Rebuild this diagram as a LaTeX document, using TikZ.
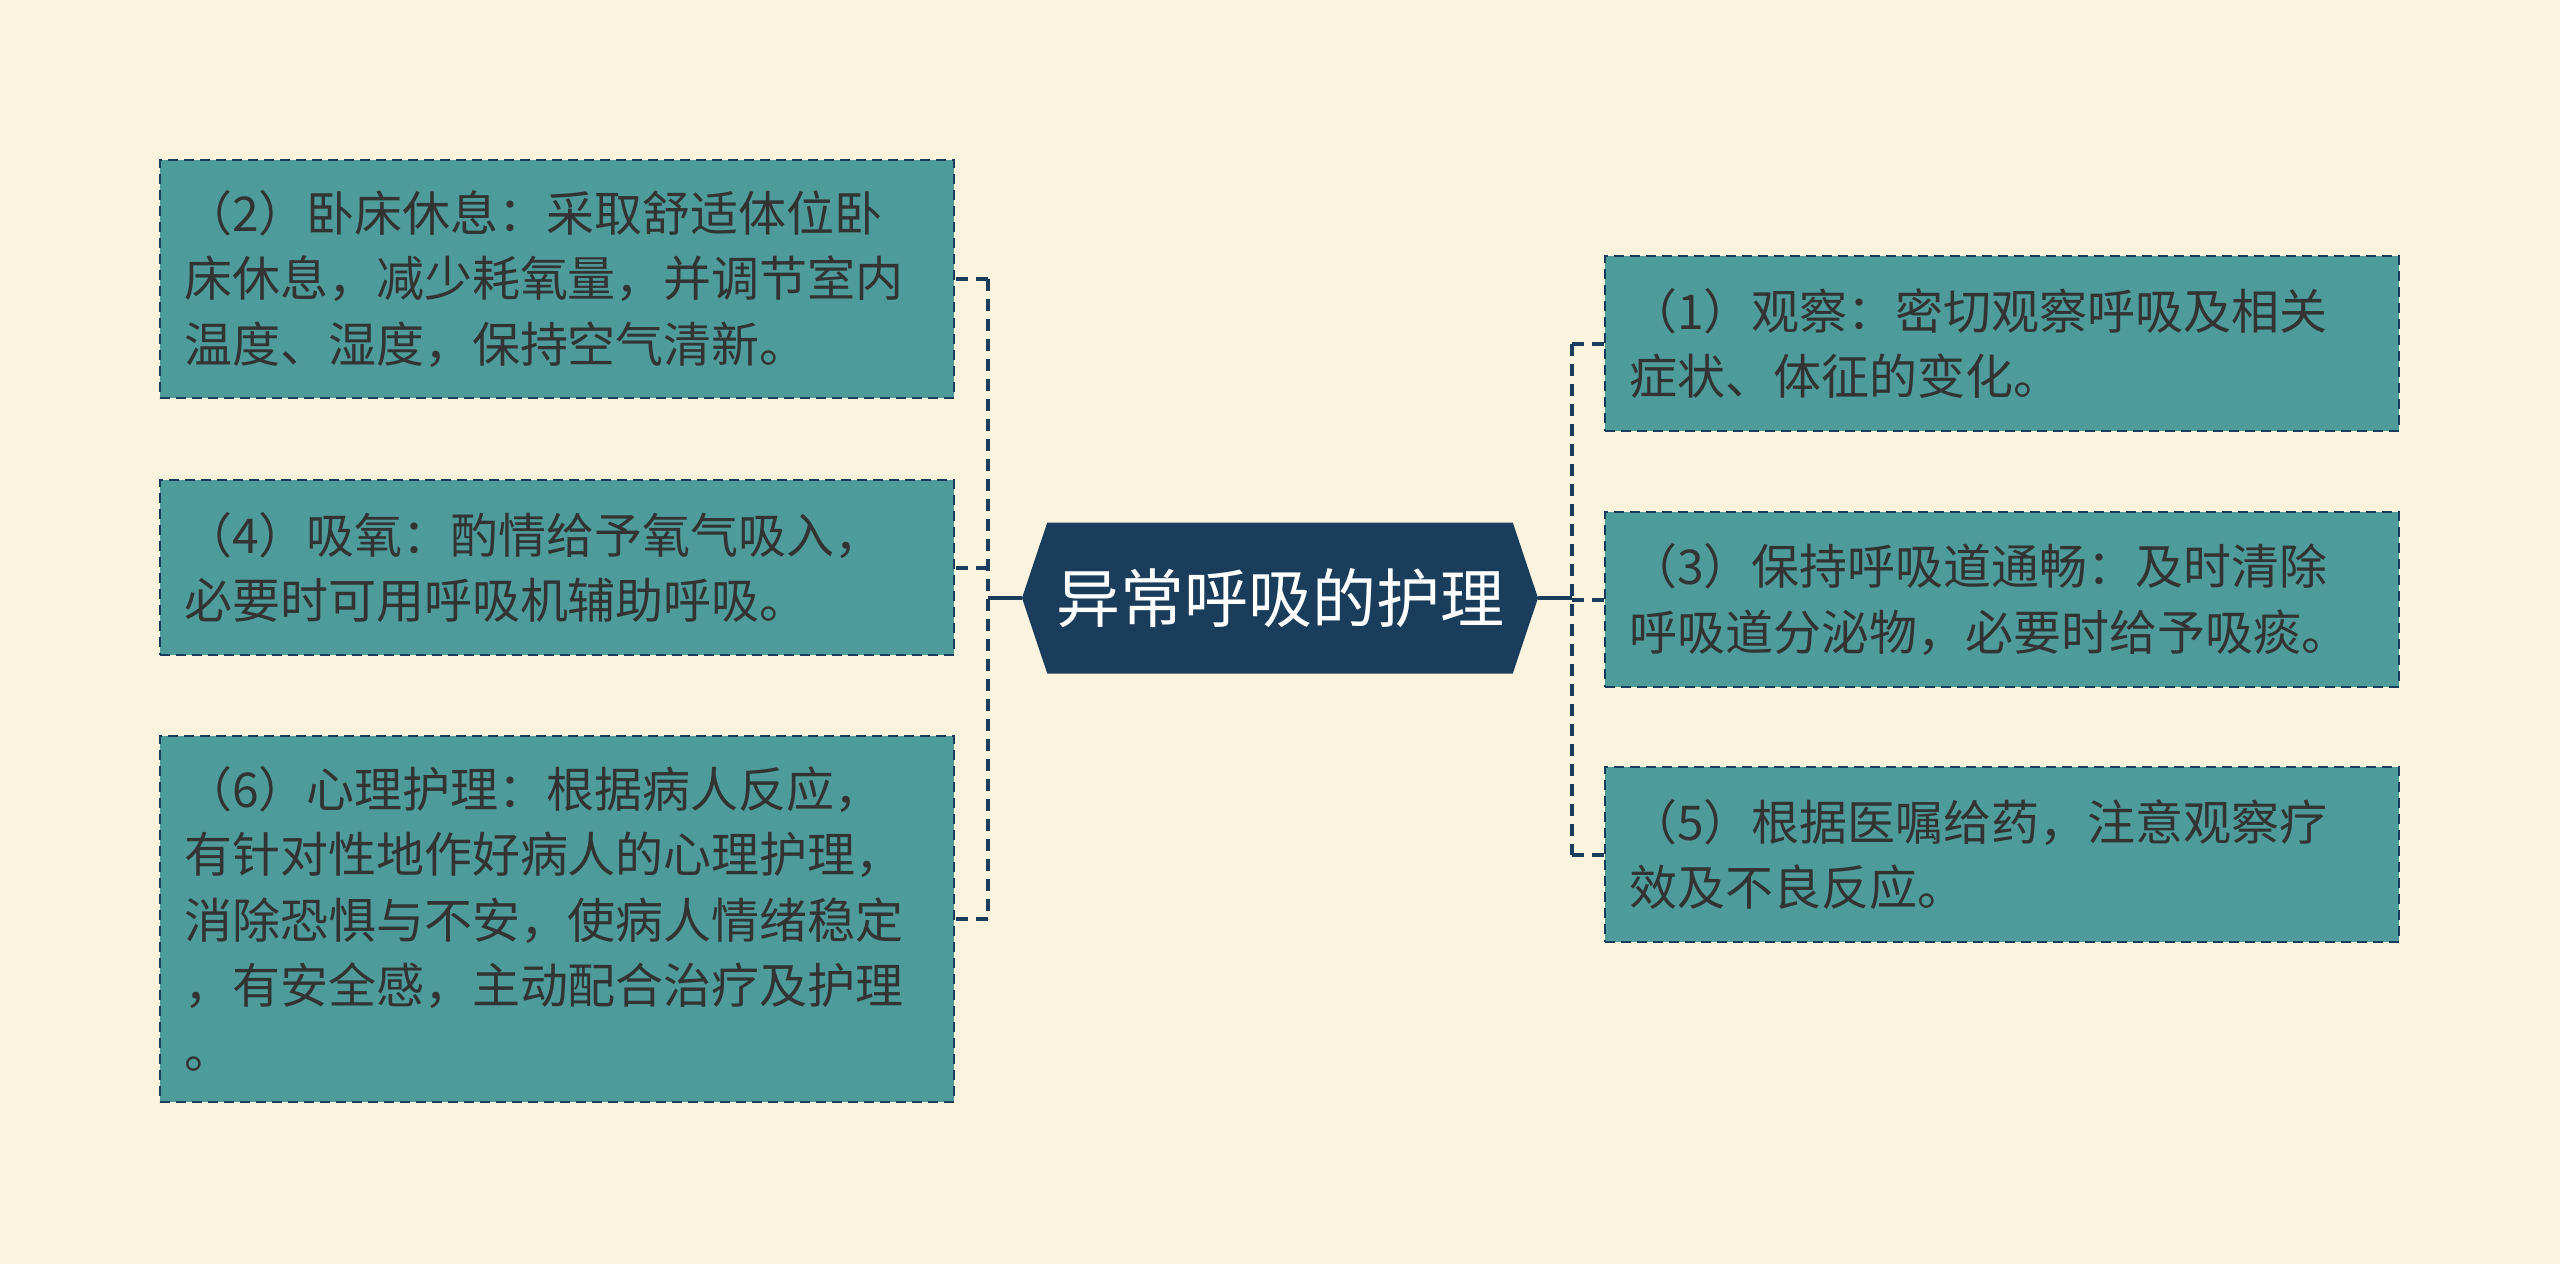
\documentclass[tikz,border=0pt]{standalone}
\usepackage{fontspec}
\newfontfamily\cjk{Noto Sans CJK SC}
\usepackage{tikz}
\usetikzlibrary{shapes.symbols}
\usetikzlibrary{positioning}
\definecolor{paper}{HTML}{FAF4DF}
\definecolor{boxfill}{HTML}{4E9B9B}
\definecolor{rootblue}{HTML}{1A3D5C}
\definecolor{ink}{HTML}{333333}

\begin{document}
\begin{tikzpicture}[x=0.5pt,y=-0.5pt]
\tikzstyle{leaf}=[draw=rootblue,line width=1.2pt,dash pattern=on 5pt off 3pt,fill=boxfill,text=ink,font=\cjk\fontsize{24pt}{32.6pt}\selectfont,align=left,inner sep=12pt,outer sep=0pt,text width=373pt]
\tikzstyle{link}=[draw=rootblue,line width=2pt,dash pattern=on 6pt off 4pt]
\tikzstyle{stub}=[draw=rootblue,line width=2pt]

\fill[paper] (0,0) rectangle (2560,1264);

\node (root) [signal,signal to=west and east,signal pointer angle=143,fill=rootblue,draw=none,inner sep=0pt,outer sep=0pt,minimum width=258pt,minimum height=75.5pt,text=white,font=\cjk\fontsize{32pt}{38pt}\selectfont] at (1280,598) {异常呼吸的护理};

\node (b2) [leaf,minimum height=119pt] at (557,279) {（2）卧床休息：采取舒适体位卧\\床休息，减少耗氧量，并调节室内\\温度、湿度，保持空气清新。};
\node (b4) [leaf,minimum height=87.5pt] at (557,567.5) {（4）吸氧：酌情给予氧气吸入，\\必要时可用呼吸机辅助呼吸。};
\node (b6) [leaf,minimum height=183pt] at (557,919) {（6）心理护理：根据病人反应，\\有针对性地作好病人的心理护理，\\消除恐惧与不安，使病人情绪稳定\\，有安全感，主动配合治疗及护理\\。};

\node (b1) [leaf,minimum height=87.5pt] at (2002,343.5) {（1）观察：密切观察呼吸及相关\\症状、体征的变化。};
\node (b3) [leaf,minimum height=87.5pt] at (2002,599.5) {（3）保持呼吸道通畅：及时清除\\呼吸道分泌物，必要时给予吸痰。};
\node (b5) [leaf,minimum height=87.5pt] at (2002,854.5) {（5）根据医嘱给药，注意观察疗\\效及不良反应。};

% left branch
\draw [stub] (root.west) -- ++(-34,0) coordinate (hubL);
\draw [link] (hubL |- b2.east) -- (hubL |- b6.east);
\draw [link] (hubL |- b2.east) -- (b2.east);
\draw [link] (hubL |- b4.east) -- (b4.east);
\draw [link] (hubL |- b6.east) -- (b6.east);

% right branch
\draw [stub] (root.east) -- ++(34,0) coordinate (hubR);
\draw [link] (hubR |- b1.west) -- (hubR |- b5.west);
\draw [link] (hubR |- b1.west) -- (b1.west);
\draw [link] (hubR |- b3.west) -- (b3.west);
\draw [link] (hubR |- b5.west) -- (b5.west);

\end{tikzpicture}
\end{document}
